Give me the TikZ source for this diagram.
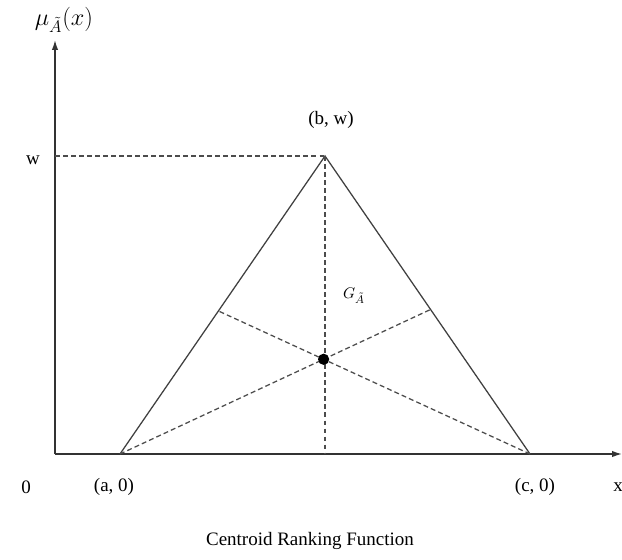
\documentclass[tikz,border=0pt]{standalone}
\usepackage{fontspec}
\setmainfont{Liberation Serif}
\usetikzlibrary{calc,arrows.meta}
\begin{document}
\begin{tikzpicture}[x=0.025cm,y=-0.025cm]
\tikzset{
    crAxis/.style={draw=black!80,line width=1pt,-{Latex[length=7pt,width=4.5pt]}},
    crSide/.style={draw=black!75,line width=0.9pt},
    crGuide/.style={draw=black!70,line width=0.9pt,dash pattern=on 3.5pt off 2.2pt},
    crLabel/.style={font=\fontsize{13.5}{15}\selectfont,inner sep=0pt},
}
\useasboundingbox (0,0) rectangle (622,559);

% axes
\coordinate (o) at (55,454);
\coordinate (ytop) at (55,40);
\coordinate (xend) at (622,454);
\draw[crAxis] (o) -- (ytop);
\draw[crAxis] (o) -- (xend);

% triangle
\coordinate (a) at (120,454);
\coordinate (b) at (325,156);
\coordinate (c) at (530,454);
\draw[crSide] (a) -- (b) -- (c);

% guides
\coordinate (wy) at (55,156);
\coordinate (bfoot) at (325,454);
\coordinate (mab) at ($(a)!0.48!(b)$);
\coordinate (mbc) at ($(c)!0.485!(b)$);
\draw[crGuide] (wy) -- (b);
\draw[crGuide] (b) -- (bfoot);
\draw[crGuide] (a) -- (mbc);
\draw[crGuide] (c) -- (mab);

% centroid
\node[circle,fill=black,inner sep=0pt,minimum size=8pt] (g)
    at (intersection of a--mbc and c--mab) {};
\node[font=\fontsize{11}{12}\selectfont,inner sep=0pt] (glab) at (354,296) {$G_{\tilde{A}}$};

% labels
\node[font=\fontsize{18}{20}\selectfont,inner sep=0pt] (mu) at (64,20) {$\mu_{\tilde{A}}(x)$};
\node[crLabel] (bw) at (331,120) {(b, w)};
\node[crLabel] (w) at (33,160) {w};
\foreach \x/\t/\n in {26/0/zero, 114/{(a, 0)}/alab, 535/{(c, 0)}/clab, 618/x/xlab} {
    \node[crLabel] (\n) at (\x,487) {\t};
}
\node[crLabel] (cap) at (310,541) {Centroid Ranking Function};
\end{tikzpicture}
\end{document}
